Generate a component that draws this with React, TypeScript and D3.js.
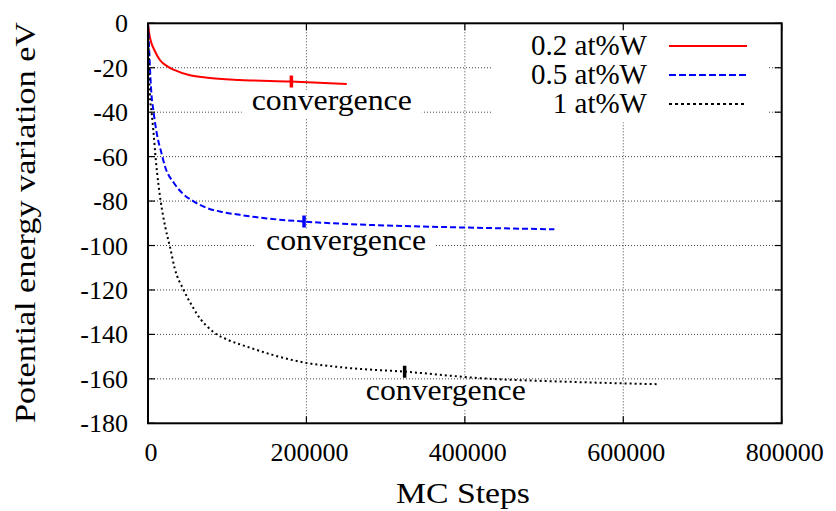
import React from "react";
import * as d3 from "d3";

const redSteps = [0, 1500, 4000, 8000, 15000, 25000, 33000, 53000, 75000, 116000, 180000, 251000];
const redValues = [0, -4.5, -8.5, -12, -16.5, -19.5, -21, -23.4, -24.5, -25.5, -26.2, -27.3];

const blueSteps = [0, 1500, 3000, 4600, 6700, 9000, 13000, 16000, 22000, 33000, 45000, 57000, 75000, 95000, 116000, 150000, 196000, 285000, 400000, 513000];
const blueValues = [0, -12, -24, -33, -39, -45, -53, -57, -65, -72, -77, -80, -83.2, -85, -86.2, -87.8, -89.2, -90.8, -91.9, -92.7];

const blackSteps = [0, 1000, 2400, 4500, 6700, 10000, 16000, 22000, 28000, 33500, 45000, 57000, 66000, 75000, 87000, 100000, 129000, 160000, 192000, 250000, 325000, 424000, 530000, 643000];
const blackValues = [0, -14, -33, -40, -48, -62, -80, -92, -101, -110, -120, -128, -133, -136.5, -140, -142.3, -146, -149.5, -152.3, -155, -156.8, -159.8, -161.3, -162.4];

const seriesNames = ["0.2 at%W", "0.5 at%W", "1 at%W"];
const seriesColors = ["#ff0000", "#0000ff", "#000000"];
const seriesDash = ["none", "6,3", "2,3"];
const legendDash = ["none", "7,3", "3,3"];

const convSteps = [181000, 197000, 324000];
const convValues = [-26.2, -89.2, -156.8];
const convHalf = 2.7;

const labelSteps = [232000, 250000, 376000];
const labelValues = [-39, -102, -169.5];
const labelText = "convergence";

const xTicks = [0, 200000, 400000, 600000, 800000];
const yTicks = [0, -20, -40, -60, -80, -100, -120, -140, -160, -180];

const W = 836;
const H = 511;
const L = 148;
const R = 781.7;
const T = 23.3;
const B = 423.3;
const FONT = "Liberation Serif";

export default function App() {
  const x = d3.scaleLinear().domain([0, 800000]).range([L, R]);
  const y = d3.scaleLinear().domain([-180, 0]).range([B, T]);
  const line = d3
    .line<[number, number]>()
    .x((d) => x(d[0]))
    .y((d) => y(d[1]))
    .curve(d3.curveMonotoneX);

  const series = [
    { s: redSteps, v: redValues },
    { s: blueSteps, v: blueValues },
    { s: blackSteps, v: blackValues },
  ].map((d, i) => ({
    pts: d.s.map((st, j) => [st, d.v[j]] as [number, number]),
    color: seriesColors[i],
    dash: seriesDash[i],
    name: seriesNames[i],
  }));

  const tickLen = 7;
  const legendRowY = [46, 75, 104];
  const ts = { fontFamily: FONT };

  return (
    <svg
      width={W}
      height={H}
      style={{ position: "fixed", left: 0, top: 0, background: "#fff", fontFamily: FONT }}
    >
      <rect x={0} y={0} width={W} height={H} fill="#fff" />
      {xTicks
        .filter((t) => t > 0 && t < 800000)
        .map((t) => (
          <line key={"gx" + t} x1={x(t)} x2={x(t)} y1={T} y2={B} stroke="#444" strokeWidth={1} strokeDasharray="1,2" />
        ))}
      {yTicks
        .filter((t) => t < 0 && t > -180)
        .map((t) => (
          <line key={"gy" + t} x1={L} x2={R} y1={y(t)} y2={y(t)} stroke="#444" strokeWidth={1} strokeDasharray="1,2" />
        ))}
      <rect x={493} y={T + 1} width={274} height={98} fill="#fff" />
      {labelSteps.map((st, i) => (
        <rect key={"lb" + i} x={x(st) - 90} y={y(labelValues[i]) - 20} width={180} height={29} fill="#fff" />
      ))}
      {xTicks.map((t) => (
        <g key={"tx" + t}>
          <line x1={x(t)} x2={x(t)} y1={B} y2={B - tickLen} stroke="#000" strokeWidth={1.2} />
          <line x1={x(t)} x2={x(t)} y1={T} y2={T + tickLen} stroke="#000" strokeWidth={1.2} />
          <text x={x(t) + 3} y={461} textAnchor="middle" fontSize={26} fill="#000" style={ts}>
            {t}
          </text>
        </g>
      ))}
      {yTicks.map((t) => (
        <g key={"ty" + t}>
          <line x1={L} x2={L + tickLen} y1={y(t)} y2={y(t)} stroke="#000" strokeWidth={1.2} />
          <line x1={R} x2={R - tickLen} y1={y(t)} y2={y(t)} stroke="#000" strokeWidth={1.2} />
          <text x={128} y={y(t) + 9} textAnchor="end" fontSize={26} fill="#000" style={ts}>
            {t === 0 ? "0" : "-" + Math.abs(t)}
          </text>
        </g>
      ))}
      {series.map((s, i) => (
        <path
          key={"s" + i}
          d={line(s.pts) || ""}
          fill="none"
          stroke={s.color}
          strokeWidth={2}
          strokeDasharray={s.dash}
        />
      ))}
      {convSteps.map((st, i) => (
        <line
          key={"cm" + i}
          x1={x(st)}
          x2={x(st)}
          y1={y(convValues[i] + convHalf)}
          y2={y(convValues[i] - convHalf)}
          stroke={seriesColors[i]}
          strokeWidth={3.5}
        />
      ))}
      {labelSteps.map((st, i) => (
        <text
          key={"lt" + i}
          x={x(st)}
          y={y(labelValues[i])}
          textAnchor="middle"
          fontSize={29}
          textLength={160}
          lengthAdjust="spacingAndGlyphs"
          fill="#000"
          style={ts}
        >
          {labelText}
        </text>
      ))}
      {seriesNames.map((n, i) => (
        <g key={"lg" + i}>
          <text x={647} y={legendRowY[i] + 9} textAnchor="end" fontSize={29} fill="#000" style={ts}>
            {n}
          </text>
          <line
            x1={669}
            x2={747}
            y1={legendRowY[i]}
            y2={legendRowY[i]}
            stroke={seriesColors[i]}
            strokeWidth={2}
            strokeDasharray={legendDash[i]}
          />
        </g>
      ))}
      <rect x={L} y={T} width={R - L} height={B - T} fill="none" stroke="#000" strokeWidth={2} />
      <text x={463} y={503} textAnchor="middle" fontSize={30} textLength={134} lengthAdjust="spacingAndGlyphs" fill="#000" style={ts}>
        MC Steps
      </text>
      <text
        transform={`translate(35, 222.5) rotate(-90)`}
        textAnchor="middle"
        fontSize={30}
        textLength={401}
        lengthAdjust="spacingAndGlyphs"
        fill="#000"
        style={ts}
      >
        Potential energy variation eV
      </text>
    </svg>
  );
}
